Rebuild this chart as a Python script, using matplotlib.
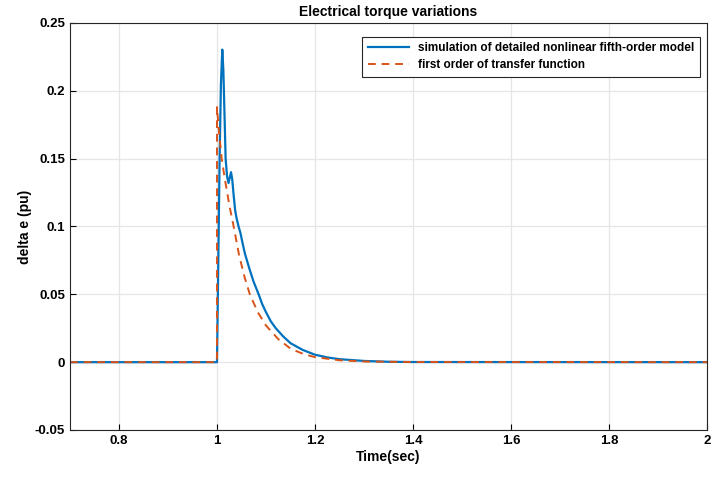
import matplotlib
matplotlib.use('Agg')
import matplotlib.pyplot as plt

plt.rcParams['font.family'] = ['Liberation Sans', 'DejaVu Sans']
plt.rcParams['font.weight'] = 'bold'

# detailed nonlinear fifth-order model
t_sim = [0.7, 1.0, 1.0025, 1.0053, 1.008, 1.0108, 1.013, 1.0155, 1.0176, 1.0205,
         1.0235, 1.026, 1.0286, 1.031, 1.034, 1.037, 1.040, 1.044, 1.048, 1.052,
         1.057, 1.066, 1.075, 1.085, 1.092, 1.1, 1.11, 1.12, 1.135, 1.15,
         1.175, 1.2, 1.225, 1.25, 1.3, 1.35, 1.4, 2.0]
v_sim = [0.0, 0.0, 0.07, 0.15, 0.205, 0.2304, 0.215, 0.18, 0.15, 0.137,
         0.132, 0.136, 0.140, 0.135, 0.123, 0.112, 0.106, 0.100, 0.095, 0.088,
         0.080, 0.069, 0.059, 0.050, 0.043, 0.0368, 0.030, 0.025, 0.019, 0.014,
         0.009, 0.0055, 0.0035, 0.0022, 0.0009, 0.0003, 0.0001, 0.0]

# first order transfer function
t_tf = [0.7, 1.0, 1.0, 1.004, 1.0095, 1.016, 1.025, 1.034, 1.045, 1.056,
        1.067, 1.083, 1.1, 1.125, 1.15, 1.175, 1.2, 1.25, 1.3, 1.4, 2.0]
v_tf = [0.0, 0.0, 0.188, 0.170, 0.150, 0.135, 0.116, 0.100, 0.079, 0.063,
        0.050, 0.037, 0.027, 0.017, 0.010, 0.0062, 0.0037, 0.0014, 0.0005, 0.0001, 0.0]

fig = plt.figure(figsize=(7.22, 4.78), dpi=100)
ax = fig.add_axes([70 / 722, 48 / 478, 637 / 722, 407 / 478])

ax.plot(t_sim, v_sim, color='#0072BD', linewidth=1.6,
        label='simulation of detailed nonlinear fifth-order model')
ax.plot(t_tf, v_tf, color='#D95319', linewidth=1.4, linestyle=(0, (4, 3)),
        label='first order of transfer function')

ax.set_xlim(0.7, 2)
ax.set_ylim(-0.05, 0.25)
ax.set_xticks([0.8, 1, 1.2, 1.4, 1.6, 1.8, 2])
ax.set_xticklabels(['0.8', '1', '1.2', '1.4', '1.6', '1.8', '2'])
ax.set_yticks([-0.05, 0, 0.05, 0.1, 0.15, 0.2, 0.25])
ax.set_yticklabels(['-0.05', '0', '0.05', '0.1', '0.15', '0.2', '0.25'])
ax.tick_params(direction='in', length=4, labelsize=9.5, width=0.8)
ax.grid(True, color='#e6e6e6', linewidth=0.9)
ax.set_axisbelow(True)
for s in ax.spines.values():
    s.set_linewidth(0.8)
    s.set_color('#262626')

ax.set_title('Electrical torque variations', fontsize=10, fontweight='bold', pad=5)
ax.set_xlabel('Time(sec)', fontsize=10, fontweight='bold', labelpad=2)
ax.set_ylabel('delta e (pu)', fontsize=10, fontweight='bold', labelpad=2)

leg = ax.legend(loc='upper right', bbox_to_anchor=(0.989, 0.966), borderaxespad=0,
                fontsize=8.5, fancybox=False, framealpha=1, edgecolor='#262626',
                handlelength=3.5, borderpad=0.45, labelspacing=0.45)
leg.get_frame().set_linewidth(0.8)

fig.savefig('out.png', dpi=100)
